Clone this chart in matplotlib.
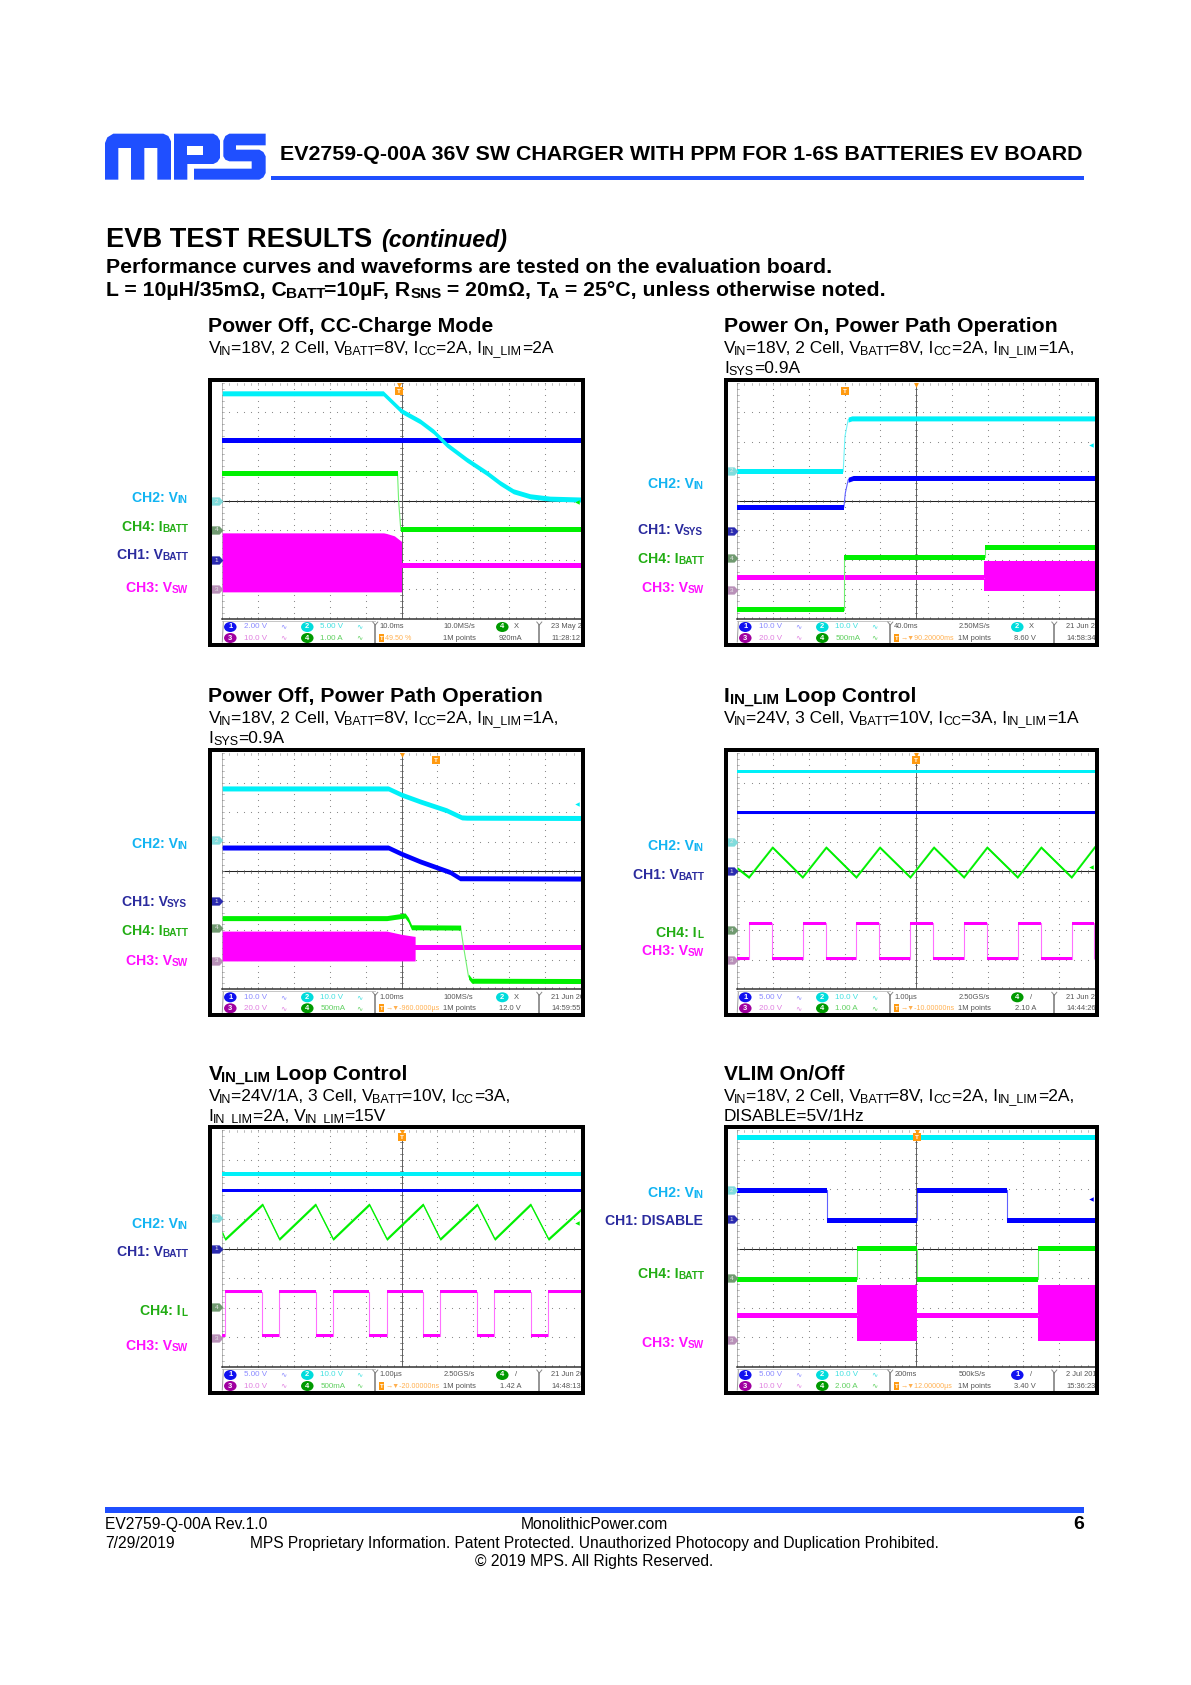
import re
import numpy as np
import matplotlib
matplotlib.use("Agg")
import matplotlib.pyplot as plt
from matplotlib.patches import Polygon, Rectangle, Ellipse
from matplotlib.path import Path
from matplotlib.transforms import Bbox, TransformedBbox

W, H = 1191, 1685
FONT = ['Liberation Sans', 'DejaVu Sans']
plt.rcParams['font.family'] = FONT

# ---------- waveform data (x, y in scope divisions) ----------
# Panel 1
P1_VIN_T = [0, 4.49, 4.77, 5.0, 5.52, 5.89, 6.26, 6.82, 7.38, 7.75, 8.12, 8.59, 9.14, 10]
P1_VIN_V = [3.65, 3.65, 3.32, 3.05, 2.70, 2.36, 1.91, 1.40, 0.95, 0.61, 0.33, 0.16, 0.08, 0.05]
P1_VBATT_T = [0, 10]
P1_VBATT_V = [2.06, 2.06]
P1_IBATT_T = [0, 4.89, 4.92, 4.98, 10]
P1_IBATT_V = [0.92, 0.92, 0.0, -0.98, -0.98]
P1_VSW_T = [5.0, 10]
P1_VSW_V = [-2.17, -2.17]
P1_BURST_T = [0, 4.5, 4.58, 4.8, 5.0]
P1_BURST_TOP = [-1.08, -1.08, -1.10, -1.18, -1.37]
P1_BURST_BOT = [-3.08, -3.08, -3.08, -3.08, -3.08]
# Panel 2
P2_VIN_T = [0, 2.96, 3.01, 3.10, 3.20, 10]
P2_VIN_V = [0.99, 0.99, 2.19, 2.76, 2.80, 2.80]
P2_VSYS_T = [0, 2.98, 3.02, 3.10, 3.24, 10]
P2_VSYS_V = [-0.21, -0.21, 0.27, 0.72, 0.78, 0.78]
P2_IBATT_T = [0, 2.98, 2.98, 6.92, 6.92, 10]
P2_IBATT_V = [-3.69, -3.69, -1.91, -1.91, -1.59, -1.59]
P2_VSW_T = [0, 6.90]
P2_VSW_V = [-2.60, -2.60]
P2_BURST_T = [6.90, 10]
P2_BURST_TOP = [-2.05, -2.05]
P2_BURST_BOT = [-3.04, -3.04]
# Panel 3
P3_VIN_T = [0, 4.63, 5.0, 5.52, 6.26, 6.68, 6.82, 10]
P3_VIN_V = [2.80, 2.80, 2.59, 2.36, 2.06, 1.82, 1.81, 1.80]
P3_VSYS_T = [0, 4.63, 5.0, 5.52, 6.35, 6.63, 10]
P3_VSYS_V = [0.80, 0.80, 0.59, 0.33, -0.03, -0.24, -0.25]
P3_IBATT_T = [0, 4.59, 5.10, 5.19, 5.28, 6.65, 6.73, 6.87, 6.96, 10]
P3_IBATT_V = [-1.59, -1.59, -1.50, -1.65, -1.90, -1.91, -2.55, -3.57, -3.71, -3.72]
P3_VSW_T = [5.38, 10]
P3_VSW_V = [-2.58, -2.58]
P3_BURST_T = [0, 4.59, 5.0, 5.38]
P3_BURST_TOP = [-2.03, -2.03, -2.14, -2.21]
P3_BURST_BOT = [-3.04, -3.04, -3.04, -3.04]
# Panel 4
P4_VIN_T = [0, 10]
P4_VIN_V = [3.38, 3.38]
P4_VBATT_T = [0, 10]
P4_VBATT_V = [1.97, 1.97]
P4_IL_T = [0, 0.32, 0.98, 1.82, 2.48, 3.32, 3.98, 4.83, 5.49, 6.33, 6.98, 7.83, 8.49, 9.34, 10]
P4_IL_V = [0.10, -0.20, 0.81, -0.20, 0.81, -0.20, 0.81, -0.20, 0.81, -0.20, 0.81, -0.20, 0.81, -0.20, 0.84]
P4_VSW_T = [0, 0.32, 0.32, 0.96, 0.96, 1.83, 1.83, 2.47, 2.47, 3.33, 3.33, 3.97, 3.97, 4.83, 4.83,
            5.48, 5.48, 6.34, 6.34, 6.98, 6.98, 7.84, 7.84, 8.48, 8.48, 9.35, 9.35, 9.98, 9.98]
P4_VSW_V = [-2.97, -2.97, -1.77, -1.77, -2.97, -2.97, -1.77, -1.77, -2.97, -2.97, -1.77, -1.77, -2.97, -2.97, -1.77,
            -1.77, -2.97, -2.97, -1.77, -1.77, -2.97, -2.97, -1.77, -1.77, -2.97, -2.97, -1.77, -1.77, -2.97]
# Panel 5
P5_VIN_T = [0, 10]
P5_VIN_V = [2.50, 2.50]
P5_VBATT_T = [0, 10]
P5_VBATT_V = [1.97, 1.97]
P5_IL_T = [0, 0.08, 1.12, 1.59, 2.60, 3.09, 4.10, 4.59, 5.60, 6.08, 7.11, 7.60, 8.60, 9.10, 10]
P5_IL_V = [0.54, 0.32, 1.49, 0.32, 1.49, 0.32, 1.49, 0.32, 1.49, 0.32, 1.49, 0.32, 1.49, 0.32, 1.31]
P5_VSW_T = [0, 0.07, 0.07, 1.11, 1.11, 1.58, 1.58, 2.61, 2.61, 3.08, 3.08, 4.10, 4.10, 4.59, 4.59,
            5.60, 5.60, 6.08, 6.08, 7.10, 7.10, 7.59, 7.59, 8.60, 8.60, 9.09, 9.09, 10]
P5_VSW_V = [-2.95, -2.95, -1.46, -1.46, -2.95, -2.95, -1.46, -1.46, -2.95, -2.95, -1.46, -1.46, -2.95, -2.95, -1.46,
            -1.46, -2.95, -2.95, -1.46, -1.46, -2.95, -2.95, -1.46, -1.46, -2.95, -2.95, -1.46, -1.46]
# Panel 6
P6_VIN_T = [0, 10]
P6_VIN_V = [3.74, 3.74]
P6_DIS_T = [0, 2.52, 2.52, 5.02, 5.02, 7.55, 7.55, 10]
P6_DIS_V = [1.97, 1.97, 0.96, 0.96, 1.97, 1.97, 0.96, 0.96]
P6_IBATT_T = [0, 3.36, 3.36, 5.02, 5.02, 8.40, 8.40, 10]
P6_IBATT_V = [-1.04, -1.04, -0.01, -0.01, -1.04, -1.04, -0.01, -0.01]
P6_VSW1_T = [0, 3.36]
P6_VSW2_T = [5.02, 8.40]
P6_VSW_V = [-2.25, -2.25]
P6_BURST1_T = [3.36, 5.02]
P6_BURST2_T = [8.40, 10]
P6_BURST_TOP = [-1.22, -1.22]
P6_BURST_BOT = [-3.12, -3.12]

# channel ground markers (channel, level in divisions)
P1_MARK = [('2', 0.0), ('4', -0.97), ('1', -2.01), ('3', -3.0)]
P2_MARK = [('2', 1.03), ('1', -1.02), ('4', -1.93), ('3', -3.03)]
P3_MARK = [('2', 1.04), ('1', -1.02), ('4', -1.91), ('3', -3.03)]
P4_MARK = [('2', 1.0), ('1', 0.0), ('4', -1.99), ('3', -3.0)]
P5_MARK = [('2', 1.02), ('1', 0.0), ('4', -1.98), ('3', -3.02)]
P6_MARK = [('2', 1.98), ('1', 1.0), ('4', -1.0), ('3', -3.1)]

# status bar strings
P1_STATUS = ['2.00 V', '10.0 V', '5.00 V', '1.00 A', '10.0ms', '49.50 %', '10.0MS/s', '1M points', '4', 'X', '920mA', '23 May 2019', '11:28:12']
P2_STATUS = ['10.0 V', '20.0 V', '10.0 V', '500mA', '40.0ms', '→▼90.20000ms', '2.50MS/s', '1M points', '2', 'X', '8.60 V', '21 Jun 2019', '14:58:34']
P3_STATUS = ['10.0 V', '20.0 V', '10.0 V', '500mA', '1.00ms', '→▼-960.0000µs', '100MS/s', '1M points', '2', 'X', '12.0 V', '21 Jun 2019', '14:59:55']
P4_STATUS = ['5.00 V', '20.0 V', '10.0 V', '1.00 A', '1.00µs', '→▼-10.00000ns', '2.50GS/s', '1M points', '4', '/', '2.10 A', '21 Jun 2019', '14:44:26']
P5_STATUS = ['5.00 V', '10.0 V', '10.0 V', '500mA', '1.00µs', '→▼-20.00000ns', '2.50GS/s', '1M points', '4', '/', '1.42 A', '21 Jun 2019', '14:48:13']
P6_STATUS = ['5.00 V', '10.0 V', '10.0 V', '2.00 A', '200ms', '→▼12.00000µs', '500kS/s', '1M points', '1', '/', '3.40 V', '2 Jul 2019', '15:36:23']

# ---------- styles ----------
BLUE = '#1f4fff'
CH = {'1': '#0000ff', '2': '#00f0f8', '3': '#ff00ff', '4': '#00f000'}
THIN = {'1': '#6060ff', '2': '#70f4f8', '3': '#ff70ff', '4': '#70f070'}
MARK = {'1': '#2a2ab0', '2': '#80dcdc', '3': '#b890b8', '4': '#709a70'}
ICON = {'1': '#1010f0', '2': '#00dcdc', '3': '#a000a0', '4': '#009a00'}
STXT = {'1': '#8a8aff', '2': '#40e0e0', '3': '#e080e0', '4': '#60d060'}
LAB = {'1': '#2b2b9e', '2': '#12b4f2', '3': '#ff10ff', '4': '#22ad14'}
ORANGE = '#ff9a10'

fig = plt.figure(figsize=(W / 100, H / 100), dpi=100, facecolor='white')
page = fig.add_axes([0, 0, 1, 1], zorder=5)
page.set_xlim(0, W)
page.set_ylim(H, 0)
page.axis('off')
page.patch.set_alpha(0)
renderer = fig.canvas.get_renderer()


def measure(s, **kw):
    a = page.text(0, 0, s + '.', **kw)
    b = page.text(0, 0, '.', **kw)
    w = a.get_window_extent(renderer).width - b.get_window_extent(renderer).width
    a.remove()
    b.remove()
    return w


def rich(x, y, s, size, color='black', weight='normal', style='normal', ha='left', width=None):
    """Text with {subscript} runs; x, y in page pixels, y is the baseline."""
    parts = re.split(r'(\{[^}]*\})', s)
    runs = [(p[1:-1], True) if p.startswith('{') else (p, False) for p in parts if p]

    def total(sz):
        return sum(measure(t, fontsize=sz * (0.72 if sub else 1), fontweight=weight, fontstyle=style) for t, sub in runs)
    if width is not None:
        size = size * width / total(size)
    tw = total(size)
    cx = x - tw if ha == 'right' else (x - tw / 2 if ha == 'center' else x)
    for t, sub in runs:
        sz = size * (0.72 if sub else 1)
        dy = size * 100 / 72 * 0.09 if sub else 0
        page.text(cx, y + dy, t, fontsize=sz, color=color, fontweight=weight, fontstyle=style,
                  ha='left', va='baseline', zorder=10)
        cx += measure(t, fontsize=sz, fontweight=weight, fontstyle=style)


# ---------- page furniture ----------
def zp(pts):
    return [(100 + a / 3, 128 + b / 3) for a, b in pts]


LOGO = [
    [(15, 155), (15, 45), (22, 28), (40, 17), (190, 17), (205, 24), (213, 40), (213, 155), (172, 155), (172, 60),
     (133, 60), (133, 155), (93, 155), (93, 60), (55, 60), (55, 155)],
    [(222, 155), (222, 17), (340, 17), (352, 24), (360, 38), (360, 90), (352, 102), (340, 108), (262, 108), (262, 155)],
    [(370, 85), (370, 38), (376, 24), (388, 17), (497, 17), (497, 52), (408, 52), (408, 65), (478, 65), (490, 72),
     (497, 85), (497, 135), (490, 148), (478, 155), (282, 155), (282, 122), (455, 122), (455, 100), (388, 100), (376, 95)],
]
for pts in LOGO:
    page.add_patch(Polygon(zp(pts), closed=True, fc=BLUE, ec='none', zorder=3))
page.add_patch(Polygon(zp([(262, 55), (308, 55), (308, 80), (262, 80)]), closed=True, fc='white', ec='none', zorder=4))
page.add_patch(Rectangle((271, 176), 813, 4, fc=BLUE, ec='none'))
page.add_patch(Rectangle((105, 1507), 979, 6, fc=BLUE, ec='none'))

rich(279.5, 160, 'EV2759-Q-00A 36V SW CHARGER WITH PPM FOR 1-6S BATTERIES EV BOARD', 15, weight='bold', width=804)
rich(105.5, 247, 'EVB TEST RESULTS', 20, weight='bold', width=266)
rich(381, 247, '(continued)', 16, weight='bold', style='italic', width=126)
rich(105.5, 273, 'Performance curves and waveforms are tested on the evaluation board.', 14, weight='bold', width=727)
rich(105.5, 296, 'L = 10µH/35mΩ, C{BATT}=10µF, R{SNS} = 20mΩ, T{A} = 25°C, unless otherwise noted.', 14, weight='bold', width=779)

TITLE_W = dict(weight='bold')
COLX = (208.5, 724)
ROWY = (332, 702, 1080)
rich(COLX[0], ROWY[0], 'Power Off, CC-Charge Mode', 15.5, width=285, **TITLE_W)
rich(COLX[1], ROWY[0], 'Power On, Power Path Operation', 15.5, width=334, **TITLE_W)
rich(COLX[0], ROWY[1], 'Power Off, Power Path Operation', 15.5, width=335, **TITLE_W)
rich(COLX[1], ROWY[1], 'I{IN_LIM} Loop Control', 15.0, **TITLE_W)
rich(COLX[0], ROWY[2], 'V{IN_LIM} Loop Control', 15.0, **TITLE_W)
rich(COLX[1], ROWY[2], 'VLIM On/Off', 15.0, **TITLE_W)

SUB = 12.55
rich(COLX[0], ROWY[0] + 21, 'V{IN}=18V, 2 Cell, V{BATT}=8V, I{CC}=2A, I{IN_LIM}=2A', SUB)
rich(COLX[1], ROWY[0] + 21, 'V{IN}=18V, 2 Cell, V{BATT}=8V, I{CC}=2A, I{IN_LIM}=1A,', SUB)
rich(COLX[1], ROWY[0] + 41, 'I{SYS}=0.9A', SUB)
rich(COLX[0], ROWY[1] + 21, 'V{IN}=18V, 2 Cell, V{BATT}=8V, I{CC}=2A, I{IN_LIM}=1A,', SUB)
rich(COLX[0], ROWY[1] + 41, 'I{SYS}=0.9A', SUB)
rich(COLX[1], ROWY[1] + 21, 'V{IN}=24V, 3 Cell, V{BATT}=10V, I{CC}=3A, I{IN_LIM}=1A', SUB)
rich(COLX[0], ROWY[2] + 21, 'V{IN}=24V/1A, 3 Cell, V{BATT}=10V, I{CC}=3A,', SUB)
rich(COLX[0], ROWY[2] + 41, 'I{IN_LIM}=2A, V{IN_LIM}=15V', SUB)
rich(COLX[1], ROWY[2] + 21, 'V{IN}=18V, 2 Cell, V{BATT}=8V, I{CC}=2A, I{IN_LIM}=2A,', SUB)
rich(COLX[1], ROWY[2] + 41, 'DISABLE=5V/1Hz', SUB)

FOOT = 11.25
rich(105, 1529, 'EV2759-Q-00A Rev.1.0', FOOT)
rich(594.5, 1529, 'MonolithicPower.com', FOOT, ha='center')
rich(1084, 1529, '6', 14, weight='bold', ha='right')
rich(105, 1548, '7/29/2019', FOOT)
rich(594.5, 1548, 'MPS Proprietary Information. Patent Protected. Unauthorized Photocopy and Duplication Prohibited.',
     FOOT, ha='center', width=690)
rich(594.5, 1566, '© 2019 MPS. All Rights Reserved.', FOOT, ha='center')

LABELS = [
    (187, 502, 'CH2: V{IN}', '2'), (187, 531, 'CH4: I{BATT}', '4'), (187, 559, 'CH1: V{BATT}', '1'), (187, 592, 'CH3: V{SW}', '3'),
    (703, 488, 'CH2: V{IN}', '2'), (703, 534, 'CH1: V{SYS}', '1'), (703, 563, 'CH4: I{BATT}', '4'), (703, 592, 'CH3: V{SW}', '3'),
    (187, 848, 'CH2: V{IN}', '2'), (187, 906, 'CH1: V{SYS}', '1'), (187, 935, 'CH4: I{BATT}', '4'), (187, 965, 'CH3: V{SW}', '3'),
    (703, 850, 'CH2: V{IN}', '2'), (703, 879, 'CH1: V{BATT}', '1'), (703, 937, 'CH4: I{L}', '4'), (703, 955, 'CH3: V{SW}', '3'),
    (187, 1228, 'CH2: V{IN}', '2'), (187, 1256, 'CH1: V{BATT}', '1'), (187, 1315, 'CH4: I{L}', '4'), (187, 1350, 'CH3: V{SW}', '3'),
    (703, 1197, 'CH2: V{IN}', '2'), (703, 1225, 'CH1: DISABLE', '1'), (703, 1278, 'CH4: I{BATT}', '4'), (703, 1347, 'CH3: V{SW}', '3'),
]
for x, y, s, c in LABELS:
    rich(x, y, s, 10.05, color=LAB[c], weight='bold', ha='right')

# ---------- scope panels ----------
PENT = Path([(-1, -.7), (.35, -.7), (1, 0), (.35, .7), (-1, .7), (-1, -.7)], closed=True)
PX_PER_DIV = 29.5
TH = 5.0   # trace height on screen, pixels
MID = 3.0
NAR = 2.8


def trace(ax, t, v, ch, px, z):
    """Thin steep edges; flat and sloping parts get the scope's constant vertical height."""
    t = np.asarray(t, float)
    v = np.asarray(v, float)
    half = px / PX_PER_DIV / 2
    ax.plot(t, v, color=THIN[ch], lw=0.8, zorder=z, solid_capstyle='butt')
    start = 0
    for i in range(1, len(t) + 1):
        steep = i < len(t) and abs(v[i] - v[i - 1]) > 5 * abs(t[i] - t[i - 1])
        if i == len(t) or steep:
            if i - 1 > start:
                ax.fill_between(t[start:i], v[start:i] - half, v[start:i] + half, color=CH[ch], lw=0, zorder=z)
            start = i


PANELS = [
    dict(frame=(208, 378, 585, 647), plot=(222.3, 383, 580.7, 619),
         traces=[(P1_VBATT_T, P1_VBATT_V, '1', TH), (P1_VIN_T, P1_VIN_V, '2', TH), (P1_VSW_T, P1_VSW_V, '3', TH), (P1_IBATT_T, P1_IBATT_V, '4', TH)],
         bursts=[(P1_BURST_T, P1_BURST_TOP, P1_BURST_BOT)], marks=P1_MARK, status=P1_STATUS,
         trig=4.94, trig_y=3.73, top=4.94, arrow=('4', -0.03)),
    dict(frame=(724, 378, 1099, 647), plot=(737.3, 383, 1095, 619),
         traces=[(P2_VSYS_T, P2_VSYS_V, '1', TH), (P2_VIN_T, P2_VIN_V, '2', TH), (P2_VSW_T, P2_VSW_V, '3', TH), (P2_IBATT_T, P2_IBATT_V, '4', TH)],
         bursts=[(P2_BURST_T, P2_BURST_TOP, P2_BURST_BOT)], marks=P2_MARK, status=P2_STATUS,
         trig=3.0, trig_y=3.72, top=5.0, arrow=('2', 1.90)),
    dict(frame=(208, 748, 585, 1017), plot=(222.3, 753, 580.7, 989.3),
         traces=[(P3_VSYS_T, P3_VSYS_V, '1', TH), (P3_VIN_T, P3_VIN_V, '2', TH), (P3_VSW_T, P3_VSW_V, '3', TH), (P3_IBATT_T, P3_IBATT_V, '4', TH)],
         bursts=[(P3_BURST_T, P3_BURST_TOP, P3_BURST_BOT)], marks=P3_MARK, status=P3_STATUS,
         trig=5.96, trig_y=3.75, top=5.0, arrow=('2', 2.26)),
    dict(frame=(724, 748, 1099, 1017), plot=(737.3, 753, 1095, 989.3),
         traces=[(P4_VBATT_T, P4_VBATT_V, '1', MID), (P4_VIN_T, P4_VIN_V, '2', MID), (P4_VSW_T, P4_VSW_V, '3', MID), (P4_IL_T, P4_IL_V, '4', NAR)],
         bursts=[], marks=P4_MARK, status=P4_STATUS,
         trig=5.0, trig_y=3.77, top=5.0, arrow=('4', 0.14)),
    dict(frame=(208, 1125, 585, 1395), plot=(222.3, 1130, 580.7, 1367),
         traces=[(P5_VBATT_T, P5_VBATT_V, '1', MID), (P5_VIN_T, P5_VIN_V, '2', 1.3 * MID), (P5_VSW_T, P5_VSW_V, '3', MID), (P5_IL_T, P5_IL_V, '4', NAR)],
         bursts=[], marks=P5_MARK, status=P5_STATUS,
         trig=5.0, trig_y=3.76, top=5.0, arrow=('4', 0.87)),
    dict(frame=(724, 1125, 1099, 1395), plot=(737.3, 1130, 1095, 1367),
         traces=[(P6_DIS_T, P6_DIS_V, '1', TH), (P6_VIN_T, P6_VIN_V, '2', TH), (P6_VSW1_T, P6_VSW_V, '3', TH), (P6_VSW2_T, P6_VSW_V, '3', TH), (P6_IBATT_T, P6_IBATT_V, '4', TH)],
         bursts=[(P6_BURST1_T, P6_BURST_TOP, P6_BURST_BOT), (P6_BURST2_T, P6_BURST_TOP, P6_BURST_BOT)], marks=P6_MARK, status=P6_STATUS,
         trig=5.03, trig_y=3.76, top=5.03, arrow=('1', 1.68)),
]

SMALL = 5.4
for P in PANELS:
    l, t, r, b = P['plot']
    ax = fig.add_axes([l / W, 1 - b / H, (r - l) / W, (b - t) / H], zorder=1)
    ax.set_xlim(0, 10)
    ax.set_ylim(-4, 4)
    ax.axis('off')

    # graticule
    fine_x = np.arange(0, 10.01, 0.2)
    fine_y = np.arange(-4, 4.01, 0.2)
    for gy in range(-3, 4):
        if gy:
            ax.plot(fine_x, np.full_like(fine_x, gy), ls='none', marker='s', ms=0.75, mew=0, color='#8c8c8c', zorder=0)
    for gx in range(0, 11):
        if gx != 5:
            ax.plot(np.full_like(fine_y, gx), fine_y, ls='none', marker='s', ms=0.75, mew=0, color='#8c8c8c', zorder=0)
    ax.plot([0, 10], [0, 0], color='#222222', lw=0.75, zorder=0.5)
    ax.plot([5, 5], [-4, 4], color='#555555', lw=0.65, zorder=0.5)
    for gx in fine_x:
        ax.plot([gx, gx], [-0.05, 0.05], color='#555555', lw=0.45, zorder=0.5)
        ax.plot([gx, gx], [-4, -3.93], color='#777777', lw=0.45, zorder=0.5)
        ax.plot([gx, gx], [4, 3.94], color='#999999', lw=0.45, zorder=0.5)
    for gy in fine_y:
        ax.plot([4.97, 5.03], [gy, gy], color='#555555', lw=0.45, zorder=0.5)
        ax.plot([0, 0.04], [gy, gy], color='#999999', lw=0.45, zorder=0.5)
    ax.plot([0, 10], [-4, -4], color='#333333', lw=1.1, zorder=0.6, clip_on=False)
    ax.plot([0, 0], [-4, 4], color='#999999', lw=0.5, zorder=0.4)

    # waveforms
    for bt, btop, bbot in P['bursts']:
        ax.fill_between(bt, btop, bbot, color=CH['3'], lw=0, zorder=3)
    for tt, vv, ch, px in P['traces']:
        trace(ax, tt, vv, ch, px, {'1': 2, '2': 2.5, '3': 3, '4': 4}[ch])

    # channel markers
    for ch, lev in P['marks']:
        ax.plot([-0.14], [lev], marker=PENT, ms=8.5, mew=0, color=MARK[ch], clip_on=False, zorder=6)
        ax.text(-0.17, lev - 0.01, ch, color='#e8e8e8', fontsize=4.6, ha='center', va='center', zorder=7, clip_on=False)

    # trigger markers
    ax.plot([P['top']], [3.94], marker='v', ms=3.5, mew=0, color=ORANGE, zorder=7, clip_on=False)
    ax.plot([P['trig']], [P['trig_y']], marker='s', ms=5.6, mew=0, color=ORANGE, zorder=7)
    ax.text(P['trig'], P['trig_y'] - 0.01, 'T', color='white', fontsize=4.6, fontweight='bold', ha='center', va='center', zorder=8)
    ach, alev = P['arrow']
    ax.plot([9.9], [alev], marker='<', ms=3.2, mew=0, color=CH[ach], zorder=7)

    # frame + status bar in page pixels
    fx0, fy0, fx1, fy1 = P['frame']
    page.add_patch(Rectangle((fx0 + 2, fy0 + 2), fx1 - fx0 - 4, fy1 - fy0 - 4, fc='none', ec='black', lw=4 * 0.72, zorder=12))
    clip = TransformedBbox(Bbox([[fx0 + 4, fy0 + 4], [fx1 - 4, fy1 - 4]]), page.transData)
    r1, r2 = b + 8, b + 19

    def st(x, y, s, color='#555555', ha='left', size=SMALL):
        tx = page.text(l + x, y, s, fontsize=size, color=color, ha=ha, va='center', zorder=9)
        tx.set_clip_box(clip)
        tx.set_clip_on(True)

    def icon(x, y, ch, w=12.5, h=10):
        page.add_patch(Ellipse((l + x, y), w, h, fc=ICON[ch], ec='none', zorder=8))
        page.text(l + x, y, ch, color='white', fontsize=5.4, fontweight='bold', ha='center', va='center', zorder=9)

    S = P['status']
    page.plot([l, l + 153], [b + 2, b + 2], color='#bbbbbb', lw=0.6, zorder=7)
    page.plot([l + 1, l], [b + 3, b + 23], color='#999999', lw=0.7, zorder=7)
    for bx in (153, 317):
        page.plot([l + bx - 2.5, l + bx, l + bx + 2.5], [b + 3, b + 6, b + 3], color='#888888', lw=0.7, zorder=7)
        page.plot([l + bx, l + bx], [b + 6, b + 24], color='#777777', lw=1.1, zorder=7)
    icon(8, r1, '1')
    icon(8, r2, '3')
    icon(85, r1, '2')
    icon(85, r2, '4')
    st(21.7, r1, S[0], STXT['1'], size=5.8)
    st(21.7, r2, S[1], STXT['3'], size=5.8)
    st(98, r1, S[2], STXT['2'], size=5.8)
    st(98, r2, S[3], STXT['4'], size=5.8)
    st(61, r1, '∿', STXT['1'], ha='center')
    st(61, r2, '∿', STXT['3'], ha='center')
    st(137, r1, '∿', STXT['2'], ha='center')
    st(137, r2, '∿', STXT['4'], ha='center')
    st(157, r1, S[4])
    page.add_patch(Rectangle((l + 156.5, r2 - 3.8), 5, 7.6, fc=ORANGE, ec='none', zorder=8))
    page.text(l + 159, r2, 'T', color='white', fontsize=4.4, fontweight='bold', ha='center', va='center', zorder=9)
    st(163, r2, S[5], '#ffb050', size=5.1)
    st(221, r1, S[6])
    st(221, r2, S[7])
    icon(280, r1, S[8])
    st(294, r1, S[9], ha='center')
    st(288, r2, S[10], ha='center')
    st(329, r1, S[11])
    st(329, r2, S[12])

fig.savefig('out.png', dpi=100, facecolor='white')
